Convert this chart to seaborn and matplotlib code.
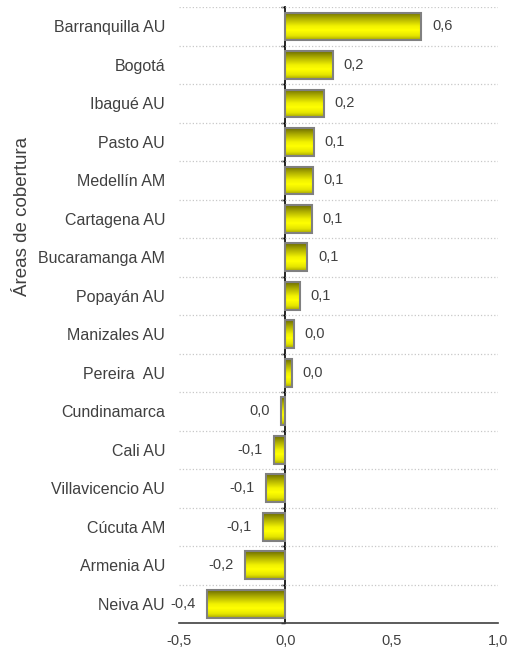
import matplotlib
matplotlib.use("Agg")
import matplotlib.pyplot as plt
from matplotlib.colors import LinearSegmentedColormap
import numpy as np
import pandas as pd
import seaborn as sns

areas = ["Barranquilla AU", "Bogotá", "Ibagué AU", "Pasto AU", "Medellín AM",
         "Cartagena AU", "Bucaramanga AM", "Popayán AU", "Manizales AU", "Pereira  AU",
         "Cundinamarca", "Cali AU", "Villavicencio AU", "Cúcuta AM", "Armenia AU",
         "Neiva AU"]
valores = [0.638, 0.223, 0.180, 0.133, 0.129, 0.124, 0.104, 0.067, 0.039, 0.030,
           -0.022, -0.054, -0.093, -0.106, -0.189, -0.368]
xticks = [-0.5, 0.0, 0.5, 1.0]

df = pd.DataFrame({"area": areas, "valor": valores})

sns.set_style("white")
plt.rcParams["font.family"] = ["Liberation Sans", "DejaVu Sans"]
txt = "#404040"

fig = plt.figure(figsize=(5.07, 6.5), dpi=100)
ax = fig.add_axes([0.353, 0.0415, 0.629, 0.9475])

sns.barplot(data=df, x="valor", y="area", orient="h", width=0.72,
            color="yellow", edgecolor="#808080", linewidth=1.5, ax=ax, zorder=3)

# vertical yellow gradient on each bar
grad = LinearSegmentedColormap.from_list(
    "amarillo", [(0.0, "#6e6e00"), (0.2, "#a8a800"), (0.5, "#f2f200"),
                 (0.65, "#ffff00"), (0.85, "#e6e600"), (1.0, "#a8a800")])
g = grad(np.linspace(0, 1, 64))[:, None, :3]
for p in ax.patches:
    x0, y0, w, h = p.get_x(), p.get_y(), p.get_width(), p.get_height()
    im = ax.imshow(g, extent=(x0, x0 + w, y0 + h, y0), aspect="auto",
                   origin="upper", zorder=2.9, interpolation="bilinear")
    im.set_clip_path(p)
    p.set_facecolor("none")

ax.set_xlim(-0.5, 1.0)
ax.set_ylim(len(areas) - 0.5, -0.5)

# value labels
etiquetas = []
for v in valores:
    s = f"{v:.1f}"
    if s == "-0.0":
        s = "0.0"
    etiquetas.append(s.replace(".", ","))
ax.bar_label(ax.containers[0], labels=etiquetas, padding=8, fontsize=10.5, color=txt)

# grid at category boundaries
bordes = np.arange(-0.5, len(areas), 1.0)
ax.set_yticks(bordes, minor=True)
ax.grid(axis="y", which="minor", color="#c8c8c8", linestyle=":", linewidth=0.9)
ax.grid(axis="y", which="major", visible=False)
ax.grid(axis="x", visible=False)

ax.set_xticks(xticks)
ax.set_xticklabels([f"{t:.1f}".replace(".", ",") for t in xticks])
ax.tick_params(axis="x", colors="#404040", labelsize=10.5, length=4, width=1,
               direction="out", labelcolor=txt, pad=4)
ax.tick_params(axis="y", which="major", length=0, pad=10, labelsize=11.5, labelcolor=txt)
ax.tick_params(axis="y", which="minor", length=0)

for s in ["top", "right", "left"]:
    ax.spines[s].set_visible(False)
ax.spines["bottom"].set_color("#404040")
ax.spines["bottom"].set_linewidth(1.2)

# value axis crossing at zero
sec = ax.secondary_yaxis(1 / 3)
sec.set_yticks(bordes)
sec.set_yticklabels([])
sec.tick_params(length=3, width=1, direction="out", color="black")
sec.spines["left"].set_color("black")
sec.spines["left"].set_linewidth(1.2)

ax.set_xlabel("")
ax.set_ylabel("Áreas de cobertura", fontsize=13.5, color=txt)
ax.yaxis.set_label_coords(-0.465, 0.66)

fig.savefig("out.png", dpi=100)
